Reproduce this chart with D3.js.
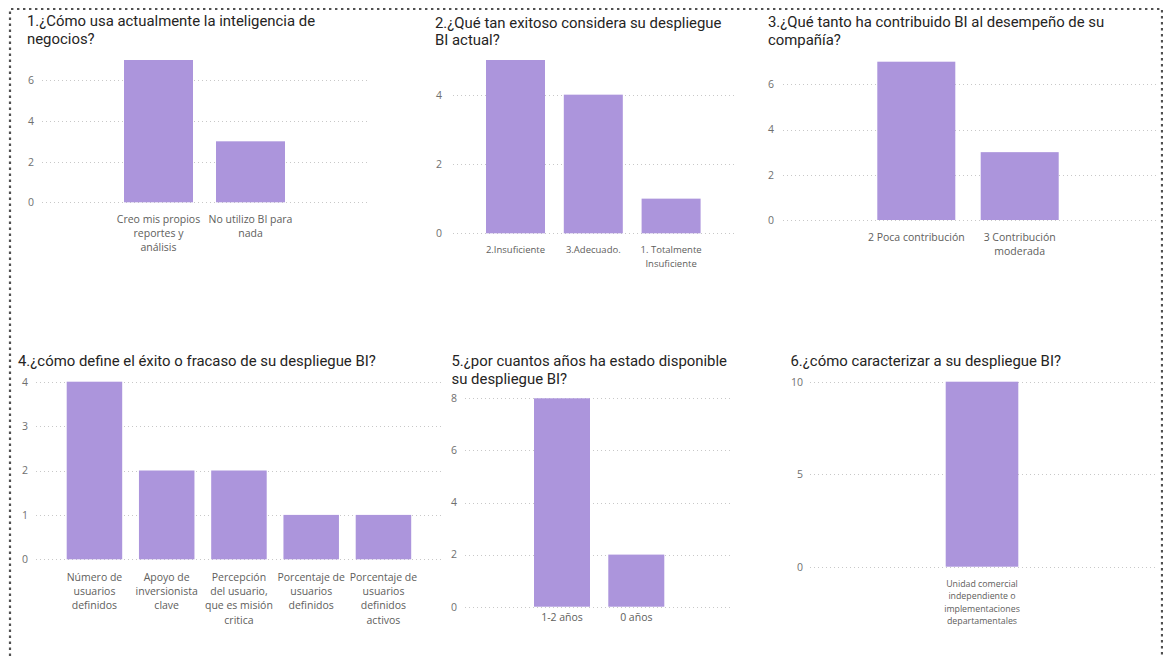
<!DOCTYPE html>
<html>
<head>
<meta charset="utf-8">
<script src="https://cdn.jsdelivr.net/npm/d3@7"></script>
<style>
  html, body { margin: 0; padding: 0; background: #ffffff; }
  svg { display: block; }
</style>
</head>
<body>
<svg id="chart" width="1163" height="656"></svg>
<script>
// ---- Survey answers (counts of respondents) ----
const q1Title = ["1.¿Cómo usa actualmente la inteligencia de", "negocios?"];
const q1Categories = ["Creo mis propios\nreportes y\nanálisis", "No utilizo BI para\nnada"];
const q1Values = [7, 3];
const q1Ticks = [0, 2, 4, 6];

const q2Title = ["2.¿Qué tan exitoso considera su despliegue", "BI actual?"];
const q2Categories = ["2.Insuficiente", "3.Adecuado.", "1. Totalmente\nInsuficiente"];
const q2Values = [5, 4, 1];
const q2Ticks = [0, 2, 4];

const q3Title = ["3.¿Qué tanto ha contribuido BI al desempeño de su", "compañía?"];
const q3Categories = ["2 Poca contribución", "3 Contribución\nmoderada"];
const q3Values = [7, 3];
const q3Ticks = [0, 2, 4, 6];

const q4Title = ["4.¿cómo define el éxito o fracaso de su despliegue BI?"];
const q4Categories = [
  "Número de\nusuarios\ndefinidos",
  "Apoyo de\ninversionista\nclave",
  "Percepción\ndel usuario,\nque es misión\ncritica",
  "Porcentaje de\nusuarios\ndefinidos",
  "Porcentaje de\nusuarios\ndefinidos\nactivos"
];
const q4Values = [4, 2, 2, 1, 1];
const q4Ticks = [0, 1, 2, 3, 4];

const q5Title = ["5.¿por cuantos años ha estado disponible", "su despliegue BI?"];
const q5Categories = ["1-2 años", "0 años"];
const q5Values = [8, 2];
const q5Ticks = [0, 2, 4, 6, 8];

const q6Title = ["6.¿cómo caracterizar a su despliegue BI?"];
const q6Categories = ["Unidad comercial\nindependiente o\nimplementaciones\ndepartamentales"];
const q6Values = [10];
const q6Ticks = [0, 5, 10];

// ---- Panel layout ----
const panels = [
  { title: q1Title, cats: q1Categories, vals: q1Values, ticks: q1Ticks, yMax: 7,
    tx: 27, ty: 26, y0: 202.3, y1: 60, gx0: 42, gx1: 370, tickRight: 34,
    barLeft: 124, barStep: 92, barWidth: 69, labelY: 223, labelSize: 10.5, lineH: 14 },
  { title: q2Title, cats: q2Categories, vals: q2Values, ticks: q2Ticks, yMax: 5,
    tx: 435, ty: 27.5, y0: 233.3, y1: 60, gx0: 453, gx1: 735, tickRight: 442,
    barLeft: 486, barStep: 77.8, barWidth: 59, labelY: 253, labelSize: 9.5, lineH: 14 },
  { title: q3Title, cats: q3Categories, vals: q3Values, ticks: q3Ticks, yMax: 7,
    tx: 768, ty: 27, y0: 220, y1: 61.7, gx0: 783, gx1: 1157, tickRight: 774,
    barLeft: 877.3, barStep: 103.4, barWidth: 78, labelY: 241, labelSize: 10.5, lineH: 14 },
  { title: q4Title, cats: q4Categories, vals: q4Values, ticks: q4Ticks, yMax: 4,
    tx: 18, ty: 366, y0: 559.3, y1: 381.7, gx0: 36, gx1: 442, tickRight: 28,
    barLeft: 66.7, barStep: 72.25, barWidth: 55.5, labelY: 581, labelSize: 10.5, lineH: 14.2 },
  { title: q5Title, cats: q5Categories, vals: q5Values, ticks: q5Ticks, yMax: 8,
    tx: 451.5, ty: 366, y0: 606.7, y1: 398.3, gx0: 465, gx1: 732, tickRight: 457,
    barLeft: 534, barStep: 74.3, barWidth: 56, labelY: 621, labelSize: 10.5, lineH: 14 },
  { title: q6Title, cats: q6Categories, vals: q6Values, ticks: q6Ticks, yMax: 10,
    tx: 790.5, ty: 366, y0: 566.7, y1: 381.7, gx0: 810, gx1: 1158, tickRight: 803,
    barLeft: 945.7, barStep: 100, barWidth: 72.6, labelY: 587, labelSize: 8.8, lineH: 12.4 }
];

const BAR_COLOR = "#ac95dc";
const TITLE_COLOR = "#252423";
const LABEL_COLOR = "#605e5c";
const TICK_COLOR = "#6f6f6f";
const GRID_COLOR = "#c8c8c8";
const TITLE_FONT = "Roboto, 'DejaVu Sans', sans-serif";
const LABEL_FONT = "'Open Sans', 'Noto Sans', sans-serif";

const svg = d3.select("#chart");
svg.append("rect").attr("width", 1163).attr("height", 656).attr("fill", "#ffffff");

// dotted report frame
const frame = d3.path();
frame.moveTo(10, 662);
frame.lineTo(10, 9);
frame.lineTo(1162, 9);
frame.lineTo(1162, 662);
svg.append("path").attr("d", frame.toString())
  .attr("fill", "none").attr("stroke", "#505050").attr("stroke-width", 2.2)
  .attr("stroke-dasharray", "2.4,3.6");

panels.forEach(p => {
  const g = svg.append("g");
  const n = p.cats.length;
  const inner = (p.barStep - p.barWidth) / p.barStep;
  // band geometry: step = barStep, bandwidth = barWidth, first band starts at barLeft
  const x = d3.scaleBand()
    .domain(p.cats)
    .paddingInner(inner)
    .paddingOuter(inner / 2)
    .range([p.barLeft - (p.barStep - p.barWidth) / 2,
            p.barLeft - (p.barStep - p.barWidth) / 2 + n * p.barStep]);

  const y = d3.scaleLinear().domain([0, p.yMax]).range([p.y0, p.y1]);

  // title
  const t = g.append("text")
    .attr("x", p.tx).attr("y", p.ty)
    .attr("font-family", TITLE_FONT).attr("font-size", 14.9)
    .attr("fill", TITLE_COLOR);
  p.title.forEach((line, i) => {
    t.append("tspan").attr("x", p.tx).attr("dy", i === 0 ? 0 : 17.5).text(line);
  });

  // gridlines
  g.append("g").selectAll("line").data(p.ticks).join("line")
    .attr("x1", p.gx0).attr("x2", p.gx1)
    .attr("y1", d => Math.round(y(d)) + 0.5).attr("y2", d => Math.round(y(d)) + 0.5)
    .attr("stroke", GRID_COLOR).attr("stroke-width", 1)
    .attr("stroke-dasharray", "1,3");

  // y axis labels
  const yAxis = d3.axisLeft(y).tickValues(p.ticks).tickFormat(d3.format("d"))
    .tickSize(0).tickPadding(0);
  const ya = g.append("g").attr("transform", `translate(${p.tickRight},0)`).call(yAxis);
  ya.select(".domain").remove();
  ya.selectAll("text")
    .attr("font-family", LABEL_FONT).attr("font-size", 10.5)
    .attr("fill", TICK_COLOR);

  // bars
  g.append("g").selectAll("rect").data(p.vals).join("rect")
    .attr("x", (d, i) => x(p.cats[i]))
    .attr("width", x.bandwidth())
    .attr("y", d => y(d))
    .attr("height", d => y(0) - y(d))
    .attr("fill", BAR_COLOR);

  // category labels (wrapped)
  p.cats.forEach(c => {
    const lines = c.split("\n");
    const lt = g.append("text")
      .attr("text-anchor", "middle")
      .attr("font-family", LABEL_FONT).attr("font-size", p.labelSize)
      .attr("fill", LABEL_COLOR);
    lines.forEach((line, i) => {
      lt.append("tspan")
        .attr("x", x(c) + x.bandwidth() / 2)
        .attr("y", p.labelY + i * p.lineH)
        .text(line);
    });
  });
});
</script>
</body>
</html>
